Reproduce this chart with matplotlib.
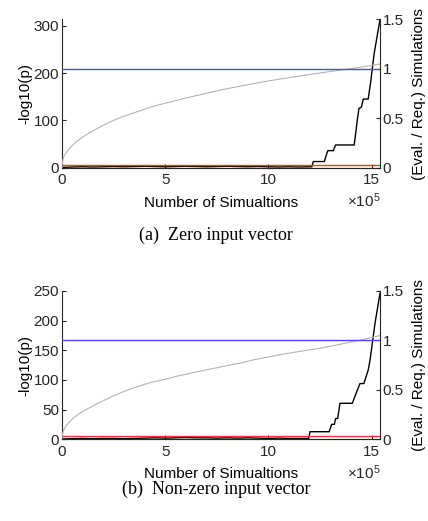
import matplotlib
matplotlib.use("Agg")
import matplotlib.pyplot as plt

plt.rcParams["font.family"] = "Liberation Sans"
plt.rcParams["mathtext.fontset"] = "custom"
plt.rcParams["mathtext.rm"] = "Liberation Sans"
plt.rcParams["mathtext.it"] = "Liberation Sans:italic"

AX_COLOR = "#262626"
FS = 11

# x values are in units of 1e5 simulations
# (a) zero input vector: -log10(p) of the running test
a_x = [0, 0.5, 1, 1.5, 2, 2.5, 3, 3.5, 4, 4.5, 5, 5.5, 6, 6.5, 7, 7.5, 8, 8.5,
       9, 9.5, 10, 10.5, 11, 11.5, 12.1, 12.17, 12.70, 12.87, 13.14, 13.25,
       14.15, 14.30, 14.38, 14.50, 14.59, 14.83, 14.96, 15.12, 15.4]
a_logp = [0.5, 1.5, 2, 1.5, 2, 2.5, 2, 2.5, 3, 2.5, 2, 2.5, 3, 2.5, 2, 2.5, 3, 2.5,
          2, 2.5, 2, 1.5, 2, 1.5, 2, 13, 13, 36, 36, 48,
          48, 100, 125, 128, 145, 145, 185, 242, 313]
# (a) evaluated / required simulations
a_ratio_x = [0, 0.005, 0.02, 0.05, 0.1, 0.18, 0.3, 0.45, 0.63, 0.9, 1.26, 1.6,
             2.0, 2.4, 2.86, 3.4, 3.9, 4.4, 4.94, 5.6, 6.3, 7.0, 7.66, 8.2, 8.8,
             9.3, 9.89, 10.5, 11.2, 11.8, 12.45, 13.2, 13.9, 14.6, 15.4]
a_ratio = [0, 0.03, 0.055, 0.085, 0.115, 0.145, 0.18, 0.215, 0.25, 0.295, 0.345,
           0.385, 0.43, 0.47, 0.51, 0.55, 0.585, 0.62, 0.65, 0.685, 0.72, 0.753,
           0.785, 0.808, 0.832, 0.852, 0.874, 0.895, 0.918, 0.937, 0.957, 0.98,
           1.0, 1.022, 1.05]

# (b) non-zero input vector
b_x = [0, 0.5, 1, 1.5, 2, 2.5, 3, 3.5, 4, 4.5, 5, 5.5, 6, 6.5, 7, 7.5, 8, 8.5,
       9, 9.5, 10, 10.5, 11, 11.5, 11.95, 12.01, 12.94, 13.06, 13.19, 13.25,
       13.35, 13.46, 14.06, 14.27, 14.43, 14.62, 14.83, 14.92, 15.16, 15.4]
b_logp = [0.5, 1, 1.5, 1, 1.5, 1.5, 1, 1.5, 2, 2.5, 2, 2.5, 3, 2.5, 2.5, 2, 2.5, 2,
          2.5, 2, 1.5, 2, 1.5, 1.5, 1.5, 12.8, 12.8, 25.3, 25.3, 35,
          35, 60.7, 60.7, 80, 94, 94, 117, 134, 196, 246]
b_ratio_x = [0, 0.005, 0.02, 0.05, 0.1, 0.18, 0.3, 0.45, 0.63, 0.9, 1.27, 1.6,
             2.0, 2.4, 2.89, 3.4, 3.9, 4.4, 4.99, 5.6, 6.3, 7.0, 7.73, 8.2, 8.8,
             9.3, 9.99, 10.6, 11.3, 11.9, 12.58, 13.2, 13.9, 14.6, 15.4]
b_ratio = [0, 0.025, 0.048, 0.075, 0.102, 0.13, 0.162, 0.195, 0.228, 0.27, 0.312,
           0.35, 0.39, 0.43, 0.475, 0.515, 0.55, 0.58, 0.607, 0.64, 0.672, 0.703,
           0.733, 0.755, 0.778, 0.805, 0.832, 0.857, 0.882, 0.902, 0.923, 0.95,
           0.98, 1.01, 1.05]

threshold = 5      # red line, -log10(p)
target_ratio = 1   # blue line, eval / req

panels = [
    dict(rect=[62 / 428, 1 - 167.7 / 521, 318 / 428, 148.2 / 521],
         x=a_x, logp=a_logp, rx=a_ratio_x, r=a_ratio,
         ylim=313, yticks=[0, 100, 200, 300],
         caption="(a)  Zero input vector", cap_y=235),
    dict(rect=[62 / 428, 1 - 439.3 / 521, 318 / 428, 148.3 / 521],
         x=b_x, logp=b_logp, rx=b_ratio_x, r=b_ratio,
         ylim=250, yticks=[0, 50, 100, 150, 200, 250],
         caption="(b)  Non-zero input vector", cap_y=489),
]

fig = plt.figure(figsize=(4.28, 5.21), dpi=100)

for p in panels:
    ax = fig.add_axes(p["rect"])
    ax2 = ax.twinx()

    ax.plot(p["x"], p["logp"], color="black", lw=1.0)
    ax.axhline(threshold, color="#ff3030", lw=1.0)
    ax2.plot(p["rx"], p["r"], color="#b4b4b4", lw=0.8)
    ax2.axhline(target_ratio, color="#4848ff", lw=1.0)

    ax.set_xlim(0, 15.4)
    ax.set_ylim(0, p["ylim"])
    ax2.set_ylim(0, 1.5)
    ax.set_xticks([0, 5, 10, 15])
    ax.set_yticks(p["yticks"])
    ax2.set_yticks([0, 0.5, 1, 1.5])
    ax2.set_yticklabels(["0", "0.5", "1", "1.5"])

    for a in (ax, ax2):
        a.spines["top"].set_visible(False)
        for s in a.spines.values():
            s.set_color(AX_COLOR)
            s.set_linewidth(0.8)
        a.tick_params(direction="in", length=3, width=0.8, colors=AX_COLOR,
                      labelsize=FS, pad=2)
    ax.tick_params(axis="x", pad=4)
    ax.spines["right"].set_visible(False)
    ax2.spines["left"].set_visible(False)

    ax.set_xlabel("Number of Simualtions", fontsize=FS, labelpad=6)
    ax.set_ylabel("-log10(p)", fontsize=FS, labelpad=1)
    ax2.set_ylabel("(Eval. / Req.) Simulations", fontsize=FS, labelpad=6)

    bottom_px = (1 - p["rect"][1]) * 521
    fig.text(380 / 428, 1 - (bottom_px + 33) / 521, r"$\times10^5$",
             ha="right", va="center", fontsize=FS, color=AX_COLOR)
    fig.text(216 / 428, 1 - p["cap_y"] / 521, p["caption"],
             ha="center", va="center", fontsize=13, family="Liberation Serif")

fig.savefig("out.png", dpi=100)
